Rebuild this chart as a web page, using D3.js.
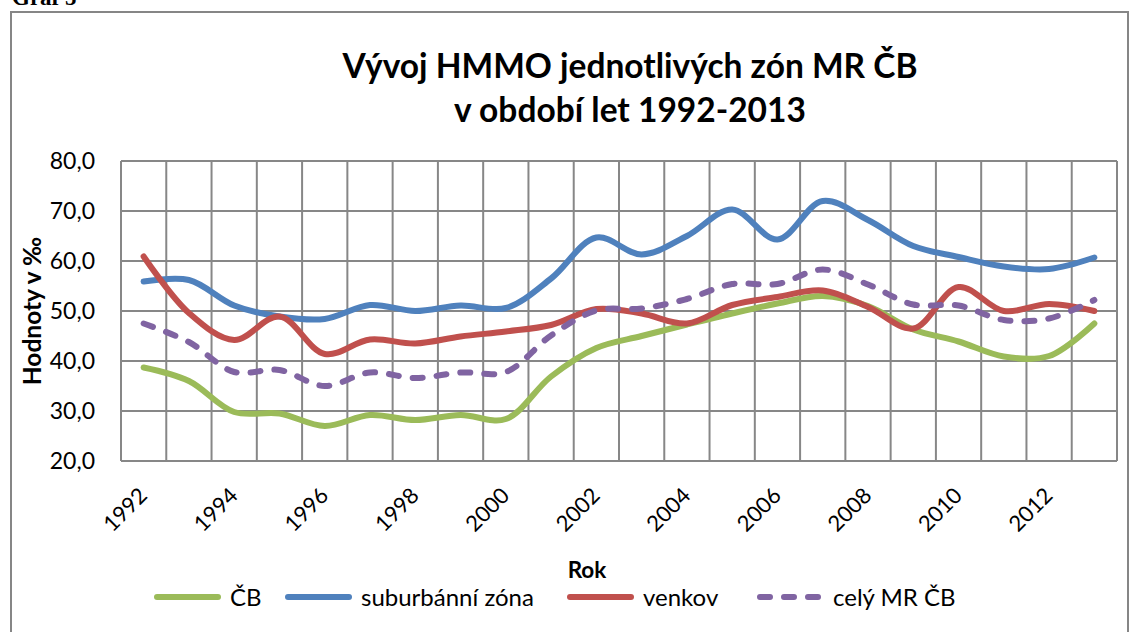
<!DOCTYPE html>
<html><head><meta charset="utf-8">
<script src="https://cdn.jsdelivr.net/npm/d3@7"></script>
<style>
html,body{margin:0;padding:0;background:#fff;}
svg{display:block;}
</style>
</head><body>
<svg id="chart" width="1134" height="632"></svg>
<script>
const years = [1992,1993,1994,1995,1996,1997,1998,1999,2000,2001,2002,2003,2004,2005,2006,2007,2008,2009,2010,2011,2012,2013];
const cb       = [38.7,36.0,29.8,29.5,27.0,29.2,28.2,29.2,28.4,36.9,42.6,45.0,47.3,49.5,51.5,53.0,51.0,46.3,43.9,40.9,41.0,47.5];
const suburban = [55.9,56.2,51.1,48.9,48.4,51.2,50.0,51.1,50.6,56.5,64.7,61.3,65.0,70.3,64.3,72.0,68.2,63.0,60.8,58.9,58.4,60.7];
const venkov   = [60.9,49.6,44.2,48.9,41.4,44.3,43.5,44.9,45.9,47.2,50.4,49.5,47.5,51.2,52.8,54.1,50.8,46.5,54.8,50.0,51.4,50.0];
const celyMR   = [47.5,43.8,37.8,38.2,35.0,37.7,36.6,37.7,37.8,45.1,50.1,50.5,52.4,55.4,55.4,58.3,55.3,51.3,51.1,48.2,48.5,52.2];
const yTicks = [20,30,40,50,60,70,80];
const xTickYears = [1992,1994,1996,1998,2000,2002,2004,2006,2008,2010,2012];
const seriesNames = ["ČB","suburbánní zóna","venkov","celý MR ČB"];
const seriesColors = ["#9BBB59","#4F81BD","#C0504D","#8064A2"];
const titleLines = ["Vývoj HMMO jednotlivých zón MR ČB","v období let 1992-2013"];

(function(){
const svg = d3.select("#chart");
const FONT = "Lato, 'Open Sans', sans-serif";
const pLeft = 121, pRight = 1117, pTop = 161, pBottom = 461;

svg.append("rect").attr("x",11).attr("y",12).attr("width",1117).attr("height",650)
  .attr("fill","none").attr("stroke","#868686").attr("stroke-width",2);
svg.append("text").attr("x",12).attr("y",5).attr("font-family","'Liberation Serif', 'Times New Roman', serif")
  .attr("font-weight","bold").attr("font-size",23).attr("fill","#000").text("Graf 5");

const x = d3.scaleBand().domain(years).range([pLeft,pRight]).padding(0);
const y = d3.scaleLinear().domain([20,80]).range([pBottom,pTop]);
const cx = d => x(d) + x.bandwidth()/2;

const grid = svg.append("g");
grid.selectAll("line.h").data(yTicks).join("line")
  .attr("x1",pLeft).attr("x2",pRight).attr("y1",d=>y(d)).attr("y2",d=>y(d))
  .attr("stroke","#878787").attr("stroke-width",2);
const bounds = years.map(d=>x(d)).concat([pRight]);
grid.selectAll("line.v").data(bounds).join("line")
  .attr("x1",d=>d).attr("x2",d=>d).attr("y1",pTop).attr("y2",pBottom)
  .attr("stroke","#878787").attr("stroke-width",2);

const yAxis = d3.axisLeft(y).tickValues(yTicks).tickSize(0).tickPadding(26)
  .tickFormat(d => d3.format(".1f")(d).replace(".",","));
const gy = svg.append("g").attr("transform",`translate(${pLeft},0)`).call(yAxis);
gy.select(".domain").remove();
gy.selectAll("text").attr("font-family",FONT).attr("font-size",23).attr("fill","#000");

const xAxis = d3.axisBottom(x).tickValues(xTickYears).tickSize(0).tickFormat(d3.format("d"));
const gx = svg.append("g").attr("transform",`translate(0,${pBottom})`).call(xAxis);
gx.select(".domain").remove();
gx.selectAll("text").attr("font-family",FONT).attr("font-size",22).attr("fill","#000")
  .attr("text-anchor","end").attr("dy",0).attr("y",0)
  .attr("transform","translate(5,36) rotate(-45)");

const data = [cb, suburban, venkov, celyMR];
const line = d3.line().x((d,i)=>cx(years[i])).y(d=>y(d)).curve(d3.curveCatmullRom.alpha(0.5));
[1,0,2,3].forEach(k=>{
  svg.append("path").datum(data[k]).attr("d",line)
    .attr("fill","none").attr("stroke",seriesColors[k]).attr("stroke-width",6)
    .attr("stroke-linecap","round").attr("stroke-linejoin","round")
    .attr("stroke-dasharray", k===3 ? "10,14" : null);
});

svg.append("g").selectAll("text").data(titleLines).join("text")
  .attr("x",630).attr("y",(d,i)=>78+i*44).attr("text-anchor","middle")
  .attr("font-family",FONT).attr("font-weight","bold").attr("font-size",33.5).attr("fill","#000")
  .text(d=>d);

svg.append("text").attr("transform","translate(41,311) rotate(-90)").attr("text-anchor","middle")
  .attr("font-family",FONT).attr("font-weight","bold").attr("font-size",24.5).attr("fill","#000")
  .text("Hodnoty v ‰");

svg.append("text").attr("x",587).attr("y",578).attr("text-anchor","middle")
  .attr("font-family",FONT).attr("font-weight","bold").attr("font-size",22.5).attr("fill","#000")
  .text("Rok");

const legendX = [154,285,567,757];
const lg = svg.append("g");
seriesNames.forEach((name,k)=>{
  const g = lg.append("g").attr("transform",`translate(${legendX[k]},597)`);
  g.append("line").attr("x1",3).attr("x2",64).attr("y1",0).attr("y2",0)
    .attr("stroke",seriesColors[k]).attr("stroke-width",6).attr("stroke-linecap","round")
    .attr("stroke-dasharray", k===3 ? "10,14" : null);
  g.append("text").attr("x",76).attr("y",8.5).attr("font-family",FONT).attr("font-size",24)
    .attr("fill","#000").text(name);
});
})();
</script>
</body></html>
